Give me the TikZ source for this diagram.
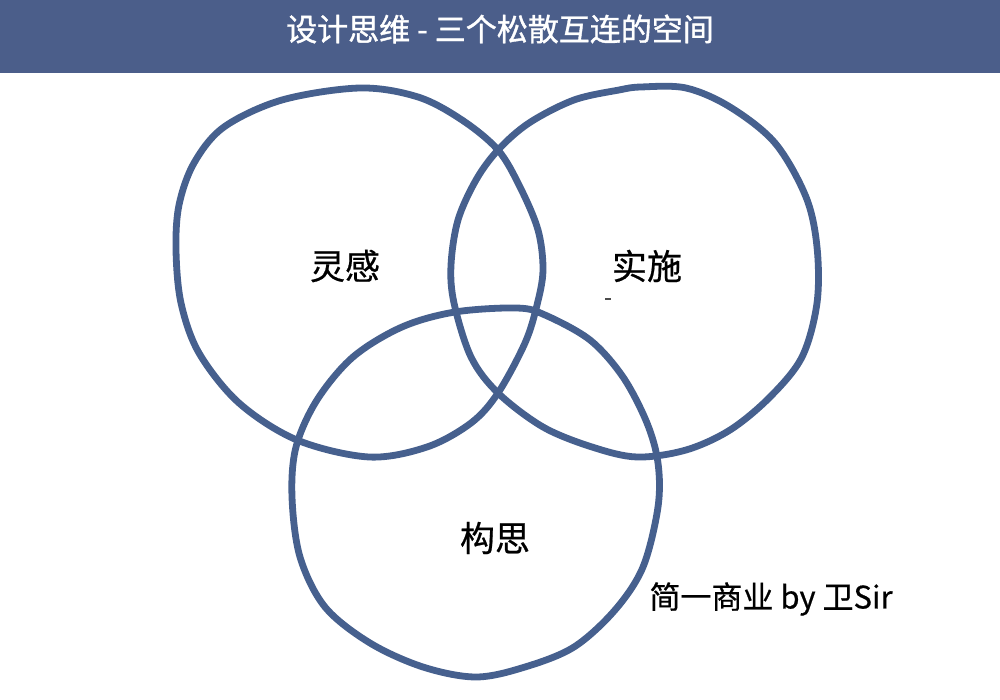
\documentclass[tikz,border=0pt]{standalone}
\usepackage{fontspec}
\newfontfamily\cjk{Noto Sans CJK SC}
\newfontfamily\cjkb[FakeBold=1.2]{Noto Sans CJK SC}
\newfontfamily\cjkm[FakeBold=0.6]{Noto Sans CJK SC}
\definecolor{headbar}{HTML}{4B5E8A}
\definecolor{ringcol}{HTML}{46608E}
\begin{document}
\begin{tikzpicture}[x=1pt,y=-1pt,
  ring/.style={draw=ringcol,line width=6.8pt,line join=round},
  label/.style={font=\cjkm\fontsize{35}{40}\selectfont,text=black,inner sep=0pt},
  titletext/.style={font=\cjkb\fontsize{31}{36}\selectfont,text=white,inner sep=0pt}]
\useasboundingbox (0,0) rectangle (1000,700);
\fill[white] (0,0) rectangle (1000,700);
\fill[headbar] (0,0) rectangle (1000,73);
\node[titletext] (title) at (500,29) {设计思维 - 三个松散互连的空间};
% left ring
\draw[ring] plot[smooth cycle,tension=0.55] coordinates {
 (360,88) (418,97) (462,120) (498,150) (520,187) (538,230) (543,270) (537,305)
 (525,343) (498,393) (471,423) (427,447) (369,457) (297,440) (239,403) (199,353)
 (181,303) (176,250) (179,205) (194,163) (224,127) (282,100)};
% right ring
\draw[ring] plot[smooth cycle,tension=0.55] coordinates {
 (641,87) (686,88) (730,107) (775,143) (806,197) (817,247) (817,303) (802,357)
 (770,397) (730,430) (686,450) (637,457) (592,447) (543,427) (498,393) (471,357)
 (454,303) (451,265) (458,220) (476,180) (498,150) (529,123) (574,100) (619,90)};
% bottom ring
\draw[ring] plot[smooth cycle,tension=0.55] coordinates {
 (517,308) (545,315) (590,340) (623,377) (647,423) (658,463) (658,507) (643,567)
 (615,610) (574,647) (525,667) (476,677) (423,667) (370,643) (325,607) (300,557)
 (292,497) (296,447) (317,400) (353,357) (402,327) (455,312)};
\node[label] (ling) at (345,266) {灵感};
\node[label] (shi) at (647,266) {实施};
\node[label] (gou) at (495,538) {构思};
\node[label,font=\cjkm\fontsize{31}{36}\selectfont] (sign) at (771,599) {简一商业 by 卫Sir};
\draw[black!70,line width=1.5pt] (605,299) -- (611,299);
\end{tikzpicture}
\end{document}
